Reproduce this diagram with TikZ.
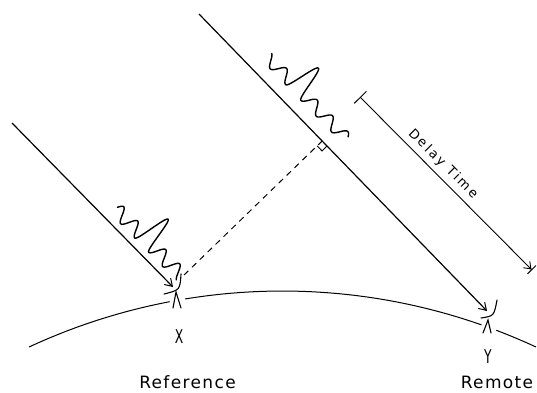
\documentclass[tikz,border=0pt]{standalone}
\usepackage{fontspec}
\newfontfamily\labfont[LetterSpace=8]{DejaVu Sans}
\newfontfamily\dtfont[LetterSpace=18]{DejaVu Sans}
\newfontfamily\xyfont{DejaVu Sans}
\usetikzlibrary{arrows.meta,calc}
\begin{document}
\begin{tikzpicture}[x=1pt,y=-1pt,
  declare function={
    wa(\u)=14+7*cos(18*(\u-178))+(abs(\u-178)<10)*11.5*(1+cos(18*(\u-178)));
    wb(\u)=19+6*cos(16.36*(\u-122))+(abs(\u-122)<11)*11.5*(1+cos(16.36*(\u-122)));
  },
  ray/.style={line width=1.2pt,-{Straight Barb[length=7pt,width=9pt,line width=1pt]}},
  wave/.style={line width=1.4pt,line cap=round,line join=round},
  ground/.style={line width=1pt},
  ant/.style={line width=1.1pt,line cap=round},
  perp/.style={line width=1pt,dash pattern=on 6pt off 5pt},
  dimline/.style={line width=0.9pt,{Bar[width=17pt,line width=0.9pt]}-{Straight Barb[length=6pt,width=9pt,line width=0.9pt]Bar[width=12pt,line width=0.9pt]}},
  lbl/.style={font=\labfont\fontsize{17}{17}\selectfont,inner sep=0pt},
  xy/.style={font=\xyfont\fontsize{19}{19}\selectfont,inner sep=0pt,xscale=0.65},
  dt/.style={font=\dtfont\fontsize{13}{13}\selectfont,inner sep=0pt}
]
\useasboundingbox (0,0) rectangle (537,392);
\fill[white] (0,0) rectangle (537,392);

% coordinates
\coordinate (A1) at (12,123);
\coordinate (B1) at (173,287);
\coordinate (A2) at (199,14);
\coordinate (B2) at (487,311);
\coordinate (P) at (184,275);
\coordinate (F) at ($(A2)!(P)!(B2)$);
\coordinate (D1) at (360,97);
\coordinate (D2) at (532,270);

% ground (earth surface)
\draw[ground] plot[domain=-114.9:-100.8,samples=30,variable=\t] ({282.5+602*cos(\t)},{893+602*sin(\t)});
\draw[ground] plot[domain=-99.3:-70.7,samples=60,variable=\t] ({282.5+602*cos(\t)},{893+602*sin(\t)});
\draw[ground] plot[domain=-69.2:-65.1,samples=10,variable=\t] ({282.5+602*cos(\t)},{893+602*sin(\t)});

% rays
\draw[ray] (A1) -- (B1);
\draw[ray] (A2) -- (B2);

% wave packets
\draw[wave] plot[domain=134:227,samples=260,smooth,variable=\u]
  ({12+0.7006*\u+0.7137*wa(\u)},{123+0.7137*\u-0.7006*wa(\u)});
\draw[wave] plot[domain=79:192,samples=300,smooth,variable=\u]
  ({199+0.6962*\u+0.7179*wb(\u)},{14+0.7179*\u-0.6962*wb(\u)});

% antennas
\draw[ant] (164,294) .. controls (180,290) .. (181,274);
\draw[ant] (173,308) -- (176,292) -- (181,308);
\draw[ant] (481,318) .. controls (494,316) .. (497,300);
\draw[ant] (483,333) -- (488,320) -- (491,333);

% perpendicular
\draw[perp] (P) -- (F);
\coordinate (Fa) at ($(F)!7pt!(B2)$);
\coordinate (Fb) at ($(F)!7pt!(P)$);
\draw[line width=0.9pt] (Fa) -- ($(Fa)+(Fb)-(F)$) -- (Fb);

% delay time dimension
\draw[dimline] (D1) -- (D2);
\node[dt,rotate=-45] (dtl) at (443,164) {Delay Time};

% labels
\node[xy] (xl) at (179,337) {X};
\node[xy] (yl) at (488,357) {Y};
\node[lbl] (ref) at (187.5,382) {Reference};
\node[lbl] (rem) at (497,382) {Remote};
\end{tikzpicture}
\end{document}
